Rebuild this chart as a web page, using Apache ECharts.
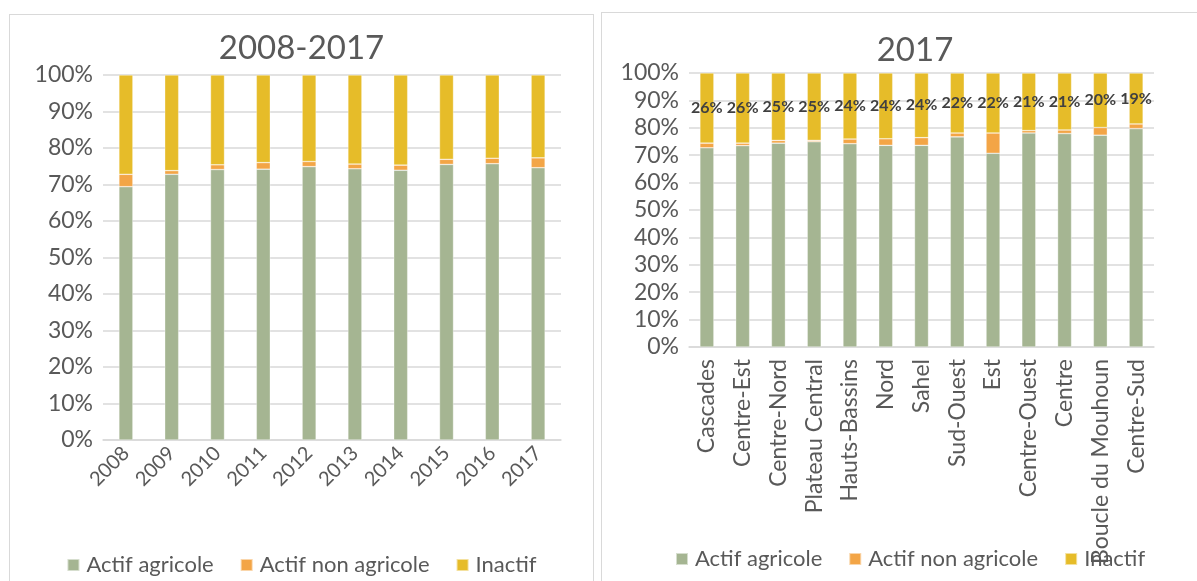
<!DOCTYPE html>
<html>
<head>
<meta charset="utf-8">
<script src="https://cdn.jsdelivr.net/npm/echarts@6/dist/echarts.min.js"></script>
<style>
  html, body { margin: 0; padding: 0; background: #fff; overflow: hidden; }
  body { width: 1197px; height: 581px; position: relative; }
  .panel { position: absolute; border: 1px solid #d9d9d9; background: #fff; }
  #left { left: 9px; top: 14px; width: 583px; height: 590px; }
  #right { left: 601px; top: 12px; width: 600px; height: 590px; }
</style>
</head>
<body>
<div id="left" class="panel"></div>
<div id="right" class="panel"></div>
<script>
// --- data: 2008-2017 (national) ---
const years = ['2008', '2009', '2010', '2011', '2012', '2013', '2014', '2015', '2016', '2017']
const yearAgri = [69.4, 72.8, 74.1, 74.2, 74.9, 74.3, 73.9, 75.5, 75.7, 74.6]
const yearNonAgri = [3.4, 1.0, 1.3, 1.8, 1.4, 1.3, 1.4, 1.4, 1.5, 2.7]
const yearInactif = [27.2, 26.2, 24.6, 24.0, 23.7, 24.4, 24.7, 23.1, 22.8, 22.7]

// --- data: 2017 by region ---
const regions = ['Cascades', 'Centre-Est', 'Centre-Nord', 'Plateau Central', 'Hauts-Bassins', 'Nord',
  'Sahel', 'Sud-Ouest', 'Est', 'Centre-Ouest', 'Centre', 'Boucle du Mouhoun', 'Centre-Sud']
const regAgri = [72.7, 73.5, 74.4, 74.9, 74.2, 73.6, 73.6, 76.7, 70.7, 78.1, 77.9, 77.3, 79.7]
const regNonAgri = [1.7, 0.9, 1.0, 0.5, 1.7, 2.4, 2.8, 1.4, 7.4, 0.9, 1.3, 2.8, 1.7]
const regInactif = [25.6, 25.6, 24.6, 24.6, 24.1, 24.0, 23.6, 21.9, 21.9, 21.0, 20.8, 19.9, 18.6]

const seriesNames = ['Actif agricole', 'Actif non agricole', 'Inactif']
const colors = ['#a5b592', '#f3a546', '#e6bc29']

const FONT = 'Lato, "Noto Sans", sans-serif'
const TXT = '#595959'

const yAxisOpt = {
  type: 'value', min: 0, max: 100, interval: 10
  , axisLabel: { formatter: '{value}%', color: TXT, fontFamily: FONT, fontSize: 23, margin: 10 }
  , splitLine: { lineStyle: { color: '#d9d9d9', width: 1.5 } }
  , axisLine: { show: false }, axisTick: { show: false }
}

const barSeries = (data, withLabels) => data.map((d, i) => ({
  name: seriesNames[i]
  , type: 'bar'
  , stack: 'total'
  , barWidth: 14
  , data: d
  , itemStyle: { color: colors[i], borderColor: 'rgba(255,255,255,0.55)', borderWidth: 0.6 }
  , label: (withLabels && i === 2) ? {
      show: true, position: 'inside', color: '#404040', fontWeight: 'bold'
      , fontFamily: FONT, fontSize: 16
      , formatter: (p) => Math.round(p.value) + '%'
    } : { show: false }
}))

const legendOpt = (top, left) => ({
  top: top, left: left
  , itemWidth: 12, itemHeight: 12, itemGap: 26, icon: 'rect'
  , textStyle: { color: TXT, fontFamily: FONT, fontSize: 22, padding: [0, 0, 0, 2] }
  , data: seriesNames
})

const leftChart = echarts.init(document.getElementById('left'))
leftChart.setOption({
  animation: false
  , title: { text: '2008-2017', left: 'center', top: 12
    , textStyle: { color: TXT, fontFamily: FONT, fontSize: 33, fontWeight: 'normal' } }
  , grid: { left: 93, top: 60, width: 458, height: 365, containLabel: false }
  , legend: legendOpt(534, 'center')
  , xAxis: {
    type: 'category', data: years
    , axisLabel: { rotate: 45, color: TXT, fontFamily: FONT, fontSize: 20, margin: 10 }
    , axisLine: { lineStyle: { color: '#d9d9d9', width: 1.5 } }
    , axisTick: { show: false }
  }
  , yAxis: yAxisOpt
  , series: barSeries([yearAgri, yearNonAgri, yearInactif], false)
})

const rightChart = echarts.init(document.getElementById('right'))
rightChart.setOption({
  animation: false
  , title: { text: '2017', left: 308, top: 16, textAlign: 'center'
    , textStyle: { color: TXT, fontFamily: FONT, fontSize: 33, fontWeight: 'normal' } }
  , grid: { left: 87, top: 60, width: 465, height: 274, containLabel: false }
  , legend: legendOpt(530, 68)
  , xAxis: {
    type: 'category', data: regions
    , axisLabel: { rotate: 90, color: TXT, fontFamily: FONT, fontSize: 23, margin: 12, interval: 0 }
    , axisLine: { lineStyle: { color: '#d9d9d9', width: 1.5 } }
    , axisTick: { show: false }
  }
  , yAxis: yAxisOpt
  , series: barSeries([regAgri, regNonAgri, regInactif], true)
})
</script>
</body>
</html>
